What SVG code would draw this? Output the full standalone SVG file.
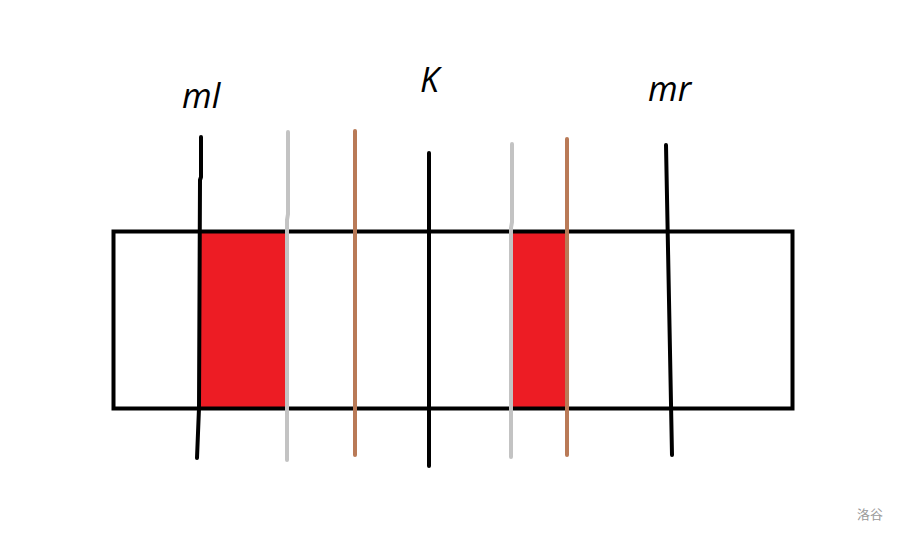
<svg xmlns="http://www.w3.org/2000/svg" width="898" height="534" viewBox="0 0 898 534">
  <style>
    .lbl { font-family: "Open Sans", "Liberation Sans", sans-serif; font-style: italic; font-size: 34px; fill: #000; }
    .blk { stroke: #000; stroke-width: 4; fill: none; stroke-linecap: round; stroke-linejoin: round; }
    .gry { stroke: #c3c3c3; stroke-width: 4; fill: none; stroke-linecap: round; }
    .brn { stroke: #b97a57; stroke-width: 4; fill: none; stroke-linecap: round; }
    .red { fill: #ed1c24; stroke: none; }
    .wm { font-family: "Noto Sans CJK SC", sans-serif; font-size: 13px; fill: #9a9a9a; }
  </style>
  <rect width="898" height="534" fill="#fff"/>
  <g id="red-regions">
    <rect class="red" x="200" y="231" width="87" height="178"/>
    <rect class="red" x="511" y="231" width="56" height="178"/>
  </g>
  <g id="box">
    <rect x="113.5" y="231.5" width="679" height="177" fill="none" stroke="#000" stroke-width="4"/>
  </g>
  <g id="lines">
    <path id="line-ml" class="blk" d="M201,137 L201,177 L200,180 L199,408 L197,458"/>
    <path id="line-gray1" class="gry" d="M288,132 L288,214 L287,220 L287,460"/>
    <path id="line-brown1" class="brn" d="M355,131 L355,455"/>
    <path id="line-K" class="blk" d="M429,153 L429,466"/>
    <path id="line-gray2" class="gry" d="M512,144 L512,222 L511,228 L511,457"/>
    <path id="line-brown2" class="brn" d="M567,139 L567,455"/>
    <path id="line-mr" class="blk" d="M666,145 L672,455"/>
  </g>
  <g id="labels">
    <text class="lbl" x="182" y="108">ml</text>
    <text class="lbl" x="420" y="92">K</text>
    <text class="lbl" x="648" y="101">mr</text>
  </g>
  <text class="wm" x="857" y="519">洛谷</text>
</svg>
